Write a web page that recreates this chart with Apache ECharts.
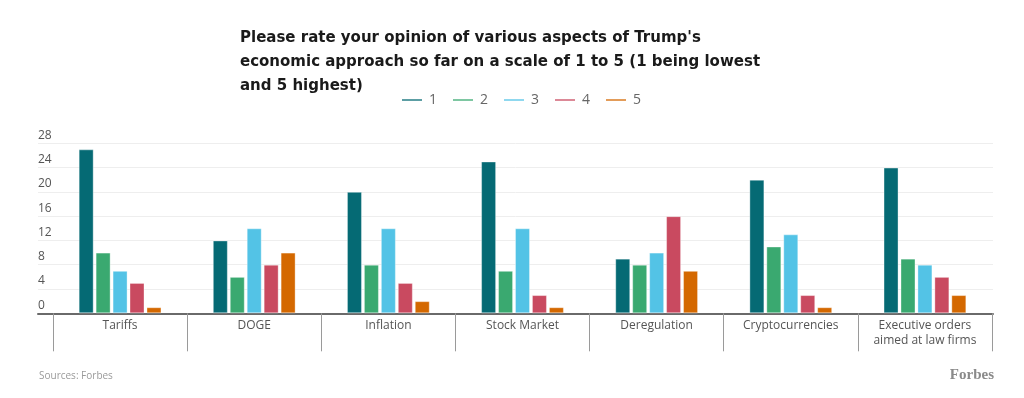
<!DOCTYPE html>
<html>
<head>
<meta charset="utf-8">
<script src="https://cdn.jsdelivr.net/npm/echarts@6/dist/echarts.min.js"></script>
<style>
  html, body { margin: 0; padding: 0; background: #fff; }
  #chart { width: 1024px; height: 398px; }
</style>
</head>
<body>
<div id="chart"></div>
<script>
const categories = ['Tariffs', 'DOGE', 'Inflation', 'Stock Market', 'Deregulation', 'Cryptocurrencies', 'Executive orders\naimed at law firms'];
const seriesNames = ['1', '2', '3', '4', '5'];
const rating1 = [27, 12, 20, 25, 9, 22, 24];
const rating2 = [10, 6, 8, 7, 8, 11, 9];
const rating3 = [7, 14, 14, 14, 10, 13, 8];
const rating4 = [5, 8, 5, 3, 16, 3, 6];
const rating5 = [1, 10, 2, 1, 7, 1, 3];
const yMin = 0, yMax = 28, yStep = 4;

const colors = ['#056a74', '#3aa970', '#53c3e6', '#c94a60', '#d46800'];
const values = [rating1, rating2, rating3, rating4, rating5];
const LABEL_FONT = '"Open Sans", Roboto, sans-serif';
const TITLE_FONT = '"DejaVu Sans", Roboto, sans-serif';

const chart = echarts.init(document.getElementById('chart'), null, { renderer: 'canvas' });

const plotTop = 143.3, plotBottom = 398 - 313.3;

chart.setOption({
  animation: false,
  color: colors,
  title: {
    text: "Please rate your opinion of various aspects of Trump's\neconomic approach so far on a scale of 1 to 5 (1 being lowest\nand 5 highest)",
    left: 240,
    top: 26,
    padding: 0,
    textStyle: { fontFamily: TITLE_FONT, fontSize: 15, fontWeight: 'bold', color: '#1a1a1a', lineHeight: 24 }
  },
  legend: {
    data: seriesNames,
    left: 401,
    top: 93,
    padding: 0,
    icon: 'rect',
    itemWidth: 20,
    itemHeight: 2,
    itemGap: 15,
    textStyle: { fontFamily: LABEL_FONT, fontSize: 14, color: '#666', padding: [0, 0, 0, 2] }
  },
  grid: [
    { left: 53, right: 32, top: plotTop, bottom: plotBottom },
    { left: 38, right: 31, top: plotTop, bottom: plotBottom }
  ],
  xAxis: [
    {
      gridIndex: 0,
      type: 'category',
      data: categories,
      axisLine: { show: false },
      axisTick: { show: true, length: 38, lineStyle: { color: '#9a9a9a', width: 1 } },
      axisLabel: { fontFamily: LABEL_FONT, fontSize: 12, color: '#555', margin: 5, lineHeight: 15, interval: 0 }
    },
    {
      gridIndex: 1,
      type: 'value',
      min: 0, max: 1,
      axisLine: { show: true, onZero: false, lineStyle: { color: '#6a6a6a', width: 2 } },
      axisTick: { show: false },
      axisLabel: { show: false },
      splitLine: { show: false }
    }
  ],
  yAxis: [
    {
      gridIndex: 0,
      type: 'value',
      min: yMin, max: yMax, interval: yStep,
      show: false,
      splitLine: { show: false }
    },
    {
      gridIndex: 1,
      type: 'value',
      min: yMin, max: yMax, interval: yStep,
      axisLine: { show: false },
      axisTick: { show: false },
      axisLabel: {
        inside: true, margin: 0, align: 'left', verticalAlign: 'bottom',
        padding: [0, 0, 2, 0],
        fontFamily: LABEL_FONT, fontSize: 12, color: '#555'
      },
      splitLine: { show: true, lineStyle: { color: '#eeeeee', width: 1 } }
    }
  ],
  series: seriesNames.map((name, i) => ({
    name: name,
    type: 'bar',
    xAxisIndex: 0,
    yAxisIndex: 0,
    data: values[i],
    barWidth: 15,
    barGap: '13%',
    itemStyle: { color: colors[i], borderColor: 'rgba(255,255,255,0.35)', borderWidth: 1 },
    z: 3
  })),
  graphic: [
    {
      type: 'text', left: 39, top: 371,
      style: { text: 'Sources: Forbes', fontFamily: LABEL_FONT, fontSize: 10, fill: '#9a9a9a' }
    },
    {
      type: 'text', right: 30, top: 368,
      style: { text: 'Forbes', fontFamily: '"Liberation Serif", "DejaVu Serif", serif', fontSize: 15, fontWeight: 'bold', fill: '#8a8a8a' }
    }
  ]
});
</script>
</body>
</html>
